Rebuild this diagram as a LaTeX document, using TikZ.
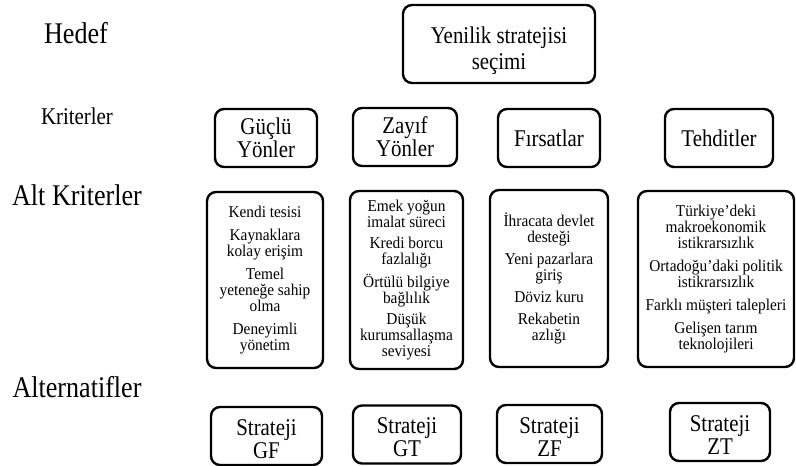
\documentclass[tikz,border=0pt]{standalone}
\usepackage{fontspec}
\setmainfont[FakeStretch=0.87]{Liberation Serif}
\newfontfamily\subfam[FakeStretch=0.93]{Liberation Serif}
\begin{document}
\begin{tikzpicture}[x=1pt,y=-1pt,
  box/.style={draw, line width=2.4pt, rounded corners=9pt, inner sep=0pt, align=center},
  crit/.style={box, font=\fontsize{24}{23}\selectfont, minimum height=58pt},
  sub/.style={box, font=\subfam\fontsize{16.5}{16}\selectfont},
  lvl/.style={anchor=base, inner sep=0pt, font=\fontsize{30}{30}\selectfont}]
\useasboundingbox (0,0) rectangle (796,466);
% level labels
\node[lvl] (lh) at (76,43) {Hedef};
\node[lvl, font=\fontsize{24}{24}\selectfont] (lk) at (77,124) {Kriterler};
\node[lvl] (la) at (77,205) {Alt Kriterler};
\node[lvl] (lal) at (77,397) {Alternatifler};
% goal
\node[box, font=\fontsize{24}{26}\selectfont, minimum width=192pt, minimum height=78pt] (goal) at (499,44) {\rule{0pt}{31pt}Yenilik stratejisi\\seçimi};
% criteria
\node[crit, minimum width=102pt] (kg) at (266,138) {Güçlü\\Yönler};
\node[crit, minimum width=104pt] (kz) at (405,137) {Zayıf\\Yönler};
\node[crit, minimum width=102pt] (kf) at (549,138) {Fırsatlar};
\node[crit, minimum width=108pt] (kt) at (719,138) {Tehditler};
% sub-criteria
\node[sub, minimum width=116pt, minimum height=176pt] (sg) at (265,280)
  {Kendi tesisi\\[7pt]Kaynaklara\\kolay erişim\\[7pt]Temel\\yeteneğe sahip\\olma\\[7pt]Deneyimli\\yönetim};
\node[sub, minimum width=113pt, minimum height=178pt] (sz) at (406.5,280)
  {Emek yoğun\\imalat süreci\\[5pt]Kredi borcu\\fazlalığı\\[5pt]Örtülü bilgiye\\bağlılık\\[5pt]Düşük\\kurumsallaşma\\seviyesi};
\node[sub, minimum width=118pt, minimum height=177pt] (sf) at (549,278.5)
  {İhracata devlet\\desteği\\[6pt]Yeni pazarlara\\giriş\\[6pt]Döviz kuru\\[6pt]Rekabetin\\azlığı};
\node[sub, minimum width=156pt, minimum height=176pt] (st) at (716,279)
  {Türkiye’deki\\makroekonomik\\istikrarsızlık\\[7pt]Ortadoğu’daki politik\\istikrarsızlık\\[7pt]Farklı müşteri talepleri\\[7pt]Gelişen tarım\\teknolojileri};
% alternatives
\node[crit, minimum width=111pt] (gf) at (266.5,436) {\rule{0pt}{22pt}Strateji\\GF};
\node[crit, minimum width=108pt] (gt) at (407,434.5) {\rule{0pt}{22pt}Strateji\\GT};
\node[crit, minimum width=105pt] (zf) at (549.5,434) {\rule{0pt}{22pt}Strateji\\ZF};
\node[crit, minimum width=100pt] (zt) at (720,432) {\rule{0pt}{22pt}Strateji\\ZT};
\end{tikzpicture}
\end{document}
